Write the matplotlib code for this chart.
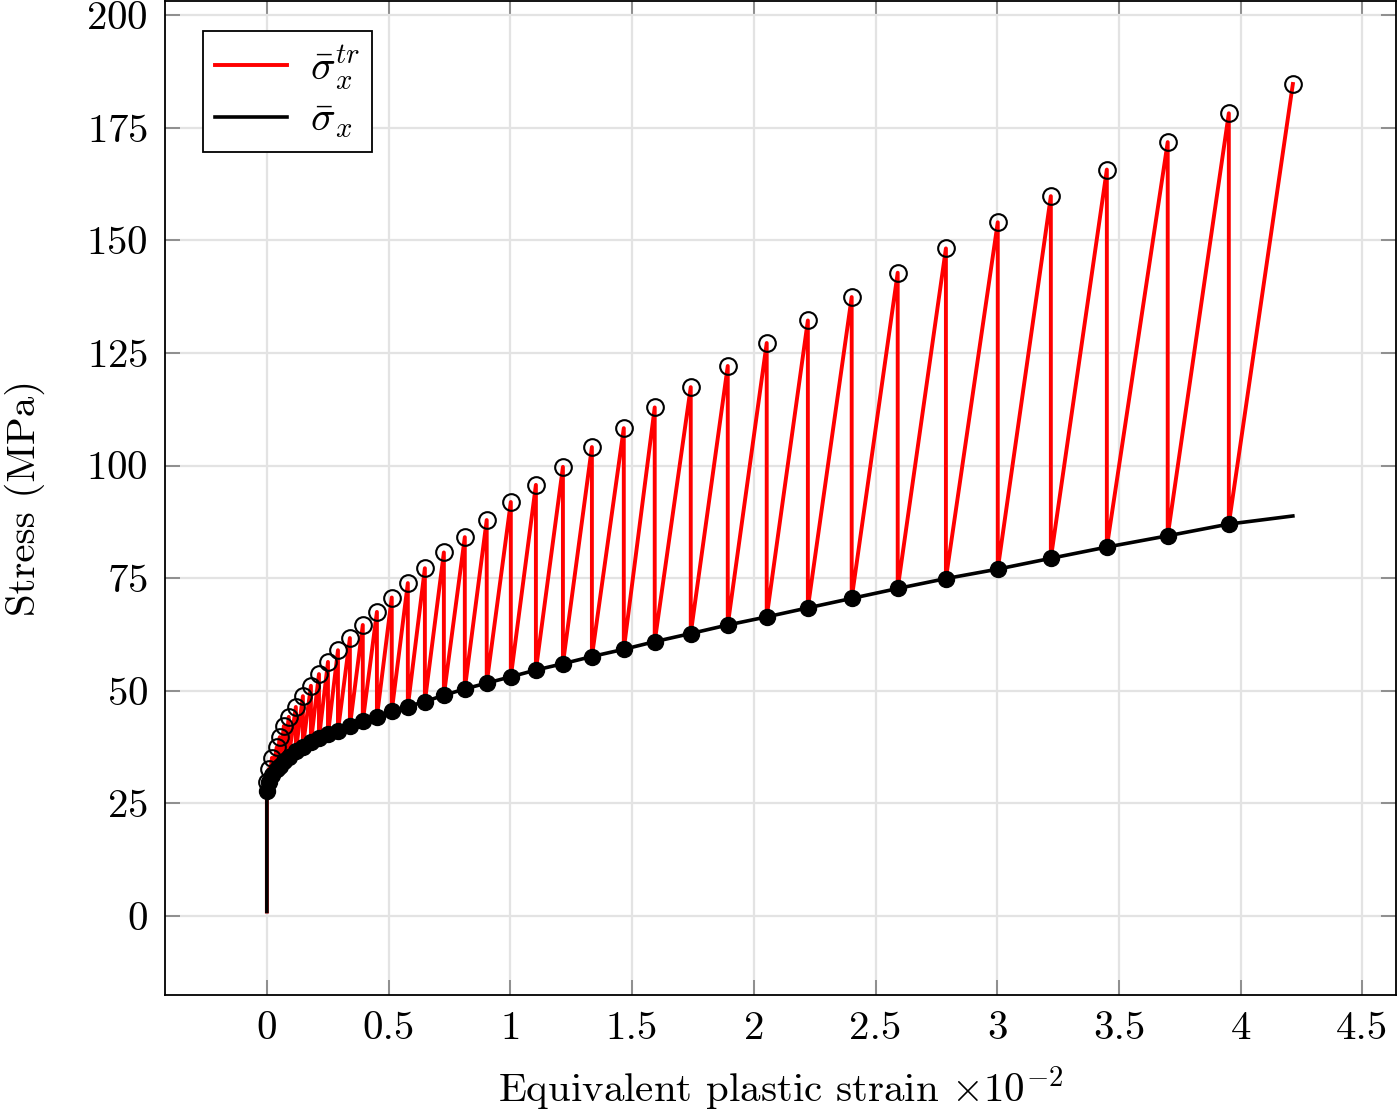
import numpy as np
import matplotlib
matplotlib.use("Agg")
import matplotlib.pyplot as plt

plt.rcParams['font.family'] = 'cmr10'
plt.rcParams['mathtext.fontset'] = 'cm'
plt.rcParams['axes.formatter.use_mathtext'] = True

# equivalent plastic strain (x 1e-2) at each load step
strain = [0.000, 0.008, 0.021, 0.041, 0.053, 0.070, 0.090, 0.119, 0.148, 0.181,
          0.214, 0.251, 0.292, 0.341, 0.394, 0.452, 0.513, 0.579, 0.649, 0.727,
          0.813, 0.903, 1.002, 1.105, 1.216, 1.335, 1.466, 1.593, 1.741, 1.893,
          2.053, 2.222, 2.402, 2.591, 2.789, 3.002, 3.220, 3.450, 3.700, 3.951,
          4.214]
# trial stress (open circles)
trial = [29.7, 32.6, 35.1, 37.5, 39.7, 42.2, 44.2, 46.4, 48.8, 51.1,
         53.7, 56.4, 59.0, 61.7, 64.6, 67.5, 70.7, 73.9, 77.2, 80.7,
         84.1, 87.9, 91.9, 95.7, 99.7, 104.1, 108.3, 112.9, 117.4, 122.1,
         127.2, 132.2, 137.4, 142.8, 148.2, 154.0, 159.8, 165.7, 171.8, 178.2,
         184.7]
# returned stress (filled dots), last step has none
ret = [27.8, 29.7, 31.2, 32.6, 33.4, 34.4, 35.4, 36.6, 37.6, 38.6,
       39.4, 40.3, 41.1, 42.1, 43.2, 44.2, 45.5, 46.5, 47.6, 49.0,
       50.4, 51.7, 53.1, 54.6, 56.0, 57.6, 59.2, 60.9, 62.7, 64.6,
       66.4, 68.4, 70.5, 72.7, 74.9, 77.0, 79.4, 81.9, 84.4, 87.0]
start = (0.0, 1.0)
curve_end = (4.214, 88.8)

xticks = [0, 0.5, 1, 1.5, 2, 2.5, 3, 3.5, 4, 4.5]
xticklabels = ['0', '0.5', '1', '1.5', '2', '2.5', '3', '3.5', '4', '4.5']
yticks = [0, 25, 50, 75, 100, 125, 150, 175, 200]

# red sawtooth path: start -> trial -> return -> trial ...
rx, ry = [start[0]], [start[1]]
for i in range(len(strain)):
    rx.append(strain[i]); ry.append(trial[i])
    if i < len(ret):
        rx.append(strain[i]); ry.append(ret[i])

bx = [start[0]] + strain[:len(ret)] + [curve_end[0]]
by = [start[1]] + ret + [curve_end[1]]

fig = plt.figure(figsize=(13.97, 11.14), dpi=100)
ax = fig.add_axes([0.118, 0.107, 0.881, 0.892])

ax.plot(rx, ry, color='red', lw=2.8, label=r'$\bar{\sigma}_x^{tr}$', zorder=3)
ax.plot(bx, by, color='black', lw=2.6, label=r'$\bar{\sigma}_x$', zorder=4)
ax.plot(strain[:len(ret)], ret, 'o', color='black', ms=11.5, zorder=5)
ax.plot(strain, trial, 'o', mfc='none', mec='black', mew=1.5, ms=12, zorder=5)

ax.set_xlim(-0.419, 4.636)
ax.set_ylim(-17.5, 203.1)
ax.set_xticks(xticks)
ax.set_xticklabels(xticklabels)
ax.set_yticks(yticks)
ax.grid(True, color='#e3e3e3', lw=1.6)
ax.set_axisbelow(True)
ax.tick_params(direction='in', length=11, width=1.2, color='#808080',
               top=True, right=True, labelsize=29.5, pad=12)
for s in ax.spines.values():
    s.set_linewidth(1.3)

ax.set_xlabel(r'Equivalent plastic strain $\times10^{-2}$', fontsize=29.5, labelpad=12)
ax.set_ylabel('Stress (MPa)', fontsize=29.5, labelpad=30)

leg = ax.legend(loc='upper left', bbox_to_anchor=(0.031, 0.970), fontsize=29.5,
                fancybox=False, edgecolor='black', framealpha=1,
                handlelength=1.75, handletextpad=0.55, borderpad=0.3,
                labelspacing=0.25, borderaxespad=0)
leg.get_frame().set_linewidth(1.3)

fig.savefig('out.png', dpi=100)
